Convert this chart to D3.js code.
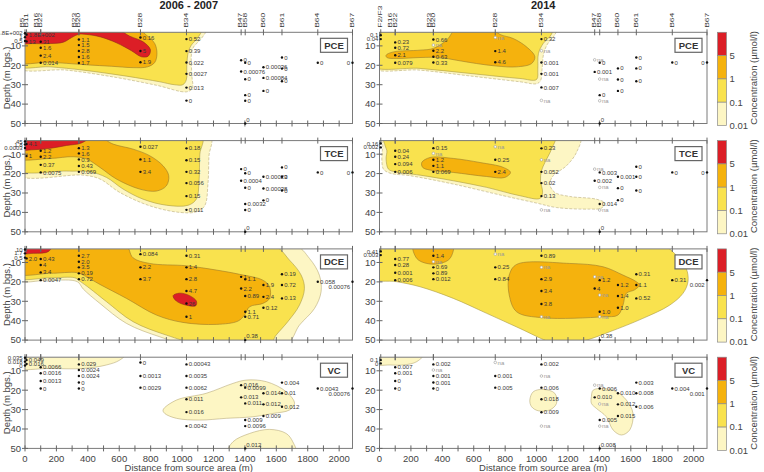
<!DOCTYPE html>
<html><head><meta charset="utf-8">
<script src="https://cdn.jsdelivr.net/npm/d3@7"></script>
<style>body{margin:0;background:#fff}svg{display:block;font-family:"Liberation Sans",Arial,sans-serif}</style>
</head><body><svg id="c" width="764" height="472"></svg>
<script>
// ---------------- DATA ----------------
const compounds = ["PCE","TCE","DCE","VC"];
const periods = ["2006 - 2007","2014"];
const stations2006 = ["B5","B11","B16","B22","B23","B20","B28","B34","B47","B58","B60","B61","B64","B67"];
const stationDist2006 = [0,10,100,100,343,343,735,1028,1376,1402,1518,1636,1864,2085];
const stations2014 = ["F2/F3","B16","B22","B23","B20","B28","B34","B47","B58","B60","B61","B64","B67"];
const stationDist2014 = [8,100,100,343,343,737,1031,1370,1402,1518,1635,1864,2085];
const distanceTicks = [0,200,400,600,800,1000,1200,1400,1600,1800,2000];
const distanceMinorTicks = d3.range(0,2085,100);
const depthTicks = [10,20,30,40,50];
const legendLabels = ["5","1","0.1","0.01"];

// samples: [station, depth (m), value label]
const pce2006 = [["B5",3.5,"5.8E+002"],["B5",5.5,"1"],["B5",7.5,"0.5"],["B11",4.2,"1.8E+002"],["B11",7.7,"13"],
["B22",7.9,"31"],["B22",11,"1.6"],["B22",15,"2.4"],["B22",18.7,"0.014"],
["B20",6.7,"1.1"],["B20",9.6,"1.5"],["B20",12.6,"2.8"],["B20",15.7,"1.6"],["B20",18.8,"1.7"],
["B28",5.7,"0.16"],["B28",12.6,"5"],["B28",18.4,"1.9"],
["B34",6.5,"0.52"],["B34",12.7,"0.39"],["B34",18.6,"0.022"],["B34",24.4,"0.0027"],["B34",31.5,"0.013"],["B34",38.2,"0"],
["B47",17.4,"0"],["B47",23.2,"0.00076"],["B58",18.7,"0"],["B58",27.2,"0"],["B58",35.4,"0"],["B58",38.3,"0"],["B58",50,"0"],
["B60",21,"0.00036"],["B60",26.5,"0.00084"],["B60",33.2,"0"],["B61",16,"0"],["B61",21.7,"0"],["B61",28.2,"0"],
["B64",18.7,"0"],["B67",18.7,"0"]];
const pce2014 = [["F2/F3",4.5,"0.1"],["F2/F3",6.5,"0.04"],
["B22",8.2,"0.23"],["B22",11,"0.72"],["B22",14.8,"2.1"],["B22",18.7,"0.079"],
["B20",6.7,"0.66"],["B20",9.6,"na"],["B20",12.5,"2.2"],["B20",15.6,"0.63"],["B20",18.6,"0.33"],
["B28",5.7,"na"],["B28",12.7,"1.4"],["B28",18.4,"4.6"],
["B34",6.5,"0.32"],["B34",12.5,"na"],["B34",18.6,"0.001"],["B34",24.4,"0.001"],["B34",31.4,"0.007"],["B34",38.1,"na"],
["B47",17.2,"na"],["B47",23.4,"0.001"],["B58",18.7,"0"],["B58",27.1,"na"],["B58",35.4,"0"],["B58",38.3,"na"],["B58",50,"0"],
["B60",21.6,"0"],["B60",27.3,"0"],["B60",33.2,"0"],["B61",16,"0"],["B61",21.6,"0"],["B61",28.2,"0"],
["B64",18.6,"0"],["B67",18.6,"0"]];
const tce2006 = [["B5",3.5,"45"],["B5",5,"1.8"],["B5",6.8,"0.0003"],["B11",4.8,"4.1"],["B11",11,"1"],
["B22",8.2,"1.2"],["B22",11.3,"2.2"],["B22",15.5,"0.37"],["B22",19.4,"0.0075"],
["B20",6.9,"1.3"],["B20",9.6,"1.6"],["B20",12.7,"0.3"],["B20",16.1,"0.43"],["B20",19.1,"0.069"],
["B28",6.2,"0.027"],["B28",12.7,"1.1"],["B28",19.1,"3.4"],
["B34",7,"0.18"],["B34",13.1,"0.15"],["B34",19.1,"0.32"],["B34",24.9,"0.056"],["B34",31.6,"0.15"],["B34",38.7,"0.011"],
["B47",17.7,"0"],["B47",23.7,"0.0004"],["B58",19.8,"0"],["B58",27.3,"0"],["B58",35.7,"0.0032"],["B58",38.8,"0"],["B58",50,"0"],
["B60",21.6,"0.00023"],["B60",27.7,"0.00038"],["B60",33.8,"0"],["B61",16.8,"0"],["B61",21.6,"0"],["B61",28.7,"0"],
["B64",19.4,"0"],["B67",19.4,"0"]];
const tce2014 = [["F2/F3",4.5,"0.16"],["F2/F3",6.5,"0.002"],
["B22",8.2,"0.04"],["B22",11.3,"0.24"],["B22",15.1,"0.094"],["B22",19.1,"0.006"],
["B20",6.9,"0.15"],["B20",9.6,"na"],["B20",12.9,"1.2"],["B20",16,"1.1"],["B20",19.1,"0.069"],
["B28",6.2,"na"],["B28",12.9,"0.25"],["B28",19.1,"2.4"],
["B34",7,"0.23"],["B34",12.9,"na"],["B34",19.1,"0.052"],["B34",24.9,"0.02"],["B34",31.6,"0.13"],["B34",38.7,"na"],
["B47",17.7,"na"],["B47",23.7,"0.002"],["B58",19.4,"0.003"],["B58",27.1,"na"],["B58",35.7,"0.014"],["B58",38.8,"na"],["B58",50,"0"],
["B60",21.6,"0.001"],["B60",27.5,"0"],["B60",33.7,"0"],["B61",16.5,"0"],["B61",21.6,"0"],["B61",28.7,"0"],
["B64",19.4,"0"],["B67",19.4,"0"]];
const dce2006 = [["B5",3.3,"10"],["B5",5.3,"1.7"],["B5",7.5,"0.5"],["B11",7.9,"2.0"],
["B22",8.2,"0.43"],["B22",11.3,"4"],["B22",15.1,"3.4"],["B22",19.1,"0.0047"],
["B20",6.5,"2.7"],["B20",9.6,"2.0"],["B20",12.5,"3.5"],["B20",15.6,"0.19"],["B20",18.6,"0.72"],
["B28",5.7,"0.084"],["B28",12.5,"2.2"],["B28",18.6,"3.7"],
["B34",6.5,"0.31"],["B34",12.5,"1.4"],["B34",18.6,"2.8"],["B34",24.7,"4.7"],["B34",31.1,"26"],["B34",38,"1"],
["B47",17.4,"1"],["B47",23.4,"2.2"],["B58",18.7,"1.1"],["B58",27.3,"0.89"],["B58",35.4,"1.1"],["B58",38,"0.71"],["B58",50,"0.38"],
["B60",21.6,"1.9"],["B60",27.7,"2.4"],["B60",33.3,"0.12"],["B61",16.1,"0.19"],["B61",21.6,"0.72"],["B61",28.5,"0.13"],
["B64",19.9,"0.058"],["B67",19.9,"0.00076"]];
const dce2014 = [["F2/F3",4.3,"0.41"],["F2/F3",6.2,"0.003"],
["B22",8.2,"0.77"],["B22",11.3,"0.28"],["B22",15.3,"0.001"],["B22",19.1,"0.006"],
["B20",6.5,"1.4"],["B20",9.6,"na"],["B20",12.5,"0.69"],["B20",15.6,"0.89"],["B20",18.6,"0.012"],
["B28",5.7,"na"],["B28",12.5,"0.25"],["B28",18.6,"0.84"],
["B34",6.5,"0.89"],["B34",12.5,"na"],["B34",18.6,"2.9"],["B34",24.7,"3.4"],["B34",31.4,"3.8"],["B34",38,"na"],
["B47",17.4,"na"],["B47",23.4,"4"],["B58",19.1,"1.2"],["B58",26.8,"na"],["B58",35.4,"1.0"],["B58",38,"na"],["B58",50,"0.38"],
["B60",21.6,"1.2"],["B60",27.3,"1.4"],["B60",33.3,"1.0"],["B61",16.1,"0.31"],["B61",21.6,"1.1"],["B61",28.5,"0.52"],
["B64",19.1,"0.31"],["B67",19.1,"0.002"]];
const vc2006 = [["B5",3.3,"0.035"],["B5",5.3,"0.018"],["B5",7.3,"0"],["B11",4.5,"0.049"],["B11",6.5,"0.016"],
["B22",8.2,"0.0066"],["B22",11.3,"0.0016"],["B22",15.3,"0.0013"],["B22",19.1,"0"],
["B20",6.7,"0.029"],["B20",9.6,"0.0024"],["B20",12.7,"0.0024"],["B20",16,"0"],["B20",19.1,"0"],
["B28",5.7,"0"],["B28",12.7,"0.0013"],["B28",18.7,"0.0029"],
["B34",6.7,"0.00043"],["B34",12.7,"0.0035"],["B34",18.7,"0.0062"],["B34",24.7,"0.011"],["B34",31.3,"0.016"],["B34",38.5,"0.0042"],
["B47",17.4,"0.016"],["B47",23.7,"0.013"],["B58",18.7,"0.0099"],["B58",26.8,"0.011"],["B58",35.4,"0.009"],["B58",38.5,"0.0096"],["B58",50,"0.012"],
["B60",21.6,"0.014"],["B60",27.3,"0.012"],["B60",33.3,"0.009"],["B61",16.1,"0.004"],["B61",21.6,"0.01"],["B61",28.5,"0.012"],
["B64",19.1,"0.0043"],["B67",19.1,"0.00076"]];
const vc2014 = [["F2/F3",4.5,"0.1"],["F2/F3",6.2,"0"],
["B22",8.2,"0.007"],["B22",11.3,"0.001"],["B22",15.3,"0"],["B22",19.1,"0"],
["B20",6.7,"0.002"],["B20",9.6,"na"],["B20",12.7,"0.001"],["B20",16,"0.001"],["B20",19.1,"0"],
["B28",5.7,"na"],["B28",12.7,"0.001"],["B28",18.7,"0.005"],
["B34",6.7,"0.002"],["B34",12.7,"na"],["B34",18.7,"0.006"],["B34",24.7,"0.018"],["B34",31.4,"0.009"],["B34",38.5,"na"],
["B47",17.4,"na"],["B47",23.7,"0.010"],["B58",19.1,"0.006"],["B58",27.1,"na"],["B58",35.4,"0.005"],["B58",38.5,"na"],["B58",50,"0.008"],
["B60",21.6,"0.010"],["B60",27.3,"0.012"],["B60",33.3,"0.015"],["B61",16.1,"0.003"],["B61",21.6,"0.008"],["B61",28.5,"0.006"],
["B64",19.1,"0.004"],["B67",19.1,"0.001"]];

// concentration class outlines: [distance (m), depth (m)]
const pce2006Cream = [[-60,0.5],[1155,0.5],[1123,6.2],[1074,10.5],[1060,14],[1062,25],[1065,32],[1027,33.7],[837,30.3],[582,26.3],[265,22.5],[-60,20.8]];
const pce2006Yellow = [[-60,0.5],[1125,0.5],[1101,5.7],[1059,9.6],[1040,13],[1030,20],[1027,27.5],[1005,30],[950,30],[858,28.5],[646,25.6],[371,22.5],[159,20.8],[-60,19.9]];
const pce2006Orange = [[-60,0.5],[700,0.5],[773,4.5],[826,8.8],[840,14],[826,18.5],[780,20.8],[688,21.2],[550,20.5],[400,19.8],[265,19],[150,18.4],[-60,17.9]];
const pce2006Red = [[-60,0.5],[560,0.5],[667,5],[752,7.9],[798,11.9],[784,15.3],[741,15.6],[678,12.5],[582,8.4],[477,5.3],[392,4.1],[343,4.0],[297,5.7],[244,8.1],[159,8.8],[53,8.8],[-60,8.2]];
const pce2014Cream = [[-60,0.5],[1130,0.5],[1110,5],[1070,9],[1045,14],[1035,22],[1025,28],[1000,29.5],[894,28.5],[576,25.5],[258,22.5],[-60,20.8]];
const pce2014Yellow = [[-60,0.5],[1100,0.5],[1095,4],[1042,8.8],[1012,13.9],[1008,22],[1000,27.3],[894,26.8],[576,24.2],[258,21.6],[-60,19.9]];
const pce2014Orange = [[42,14.8],[89,13.1],[258,12.2],[343,11.3],[428,7.0],[496,0.5],[703,0.5],[767,4.1],[851,6.2],[936,10.5],[989,15.6],[968,19.1],[873,20.8],[746,20.4],[618,19.1],[491,17.4],[385,16.0],[258,16.0],[110,16.5],[47,16.0]];
const tce2006Cream = [[-60,0.5],[1178,0.5],[1171,11],[1165,25],[1144,36.6],[1091,39.7],[985,40],[794,36.6],[603,29.7],[477,22.8],[371,20.8],[-60,20.3]];
const tce2006Yellow = [[-60,0.5],[1125,0.5],[1113,10],[1108,24],[1092,33],[1040,36.3],[900,36.3],[752,33.2],[625,28],[519,22],[413,19.1],[265,18.7],[-60,17.7]];
const tce2006Orange = [[-60,0.5],[455,0.5],[561,4.8],[688,7.4],[794,10.8],[879,16],[915,21.1],[900,26.3],[837,29],[731,28],[582,22.8],[477,16.8],[392,12.5],[307,11.3],[159,12.2],[-60,11.7]];
const tce2006Red = [[-60,0.5],[420,0.5],[360,4.2],[265,5.5],[159,7.0],[53,7.7],[-60,7.4]];
const tce2014Cream = [[15,0.5],[1275,0.5],[1254,9.1],[1190,16],[1106,21.1],[1084,25.4],[1116,29.7],[1212,31.8],[1381,33.2],[1434,35.2],[1413,37.8],[1339,38.3],[1127,37.5],[1000,35.2],[788,31.4],[470,25.4],[195,21.1],[68,19.8],[25,17.7],[15,10.8],[21,5.7]];
const tce2014Yellow = [[30,0.5],[1116,0.5],[1095,7.4],[1053,14.3],[1031,18.6],[1025,23.7],[1038,29.7],[1021,32.8],[894,31.4],[682,27.1],[470,23.7],[258,20.8],[100,19.1],[57,17.7],[42,12.5],[47,8.2],[36,5.7]];
const tce2014Orange = [[269,14.3],[322,11.7],[470,12.2],[640,14.3],[788,16.8],[834,19.4],[798,22],[682,21.5],[470,19.4],[322,18.2],[275,16.8]];
const dce2006Cream = [[-60,0.5],[1705,0.5],[1811,7.9],[1874,16.5],[1885,25.1],[1843,33.7],[1747,42.3],[1663,52],[1027,52],[858,48.3],[646,41.4],[477,31.1],[371,23.7],[333,19.9],[159,19.1],[-60,18.7]];
const dce2006Yellow = [[-60,0.5],[1567,0.5],[1684,8.8],[1758,16.5],[1779,23.4],[1747,32],[1673,40.5],[1599,47.4],[1557,52],[1112,52],[900,47.4],[688,40.5],[519,30.2],[413,23.4],[349,19.6],[318,17.9],[159,17.9],[-60,17.4]];
const dce2006Orange = [[-60,0.5],[635,0.5],[688,7.6],[794,10.5],[1027,11.7],[1218,13.9],[1366,16.1],[1514,19.1],[1557,22.5],[1557,28.5],[1514,31.1],[1430,32.8],[1398,37.1],[1356,40.2],[1218,41.9],[1006,40.9],[837,37.1],[646,28.5],[477,21.3],[371,16.5],[328,15.2],[159,15.6],[-60,15.3]];
const dce2006RedTop = [[-60,0.5],[175,0.5],[150,4.3],[53,5.3],[-60,5.0]];
const dce2006RedCore = [[943,27.1],[985,25.8],[1048,27.1],[1091,29.9],[1087,32.3],[1027,32],[964,29.9]];
const dce2014Yellow = [[-60,0.5],[1783,0.5],[1889,6.2],[1953,13.1],[1964,19.9],[1932,25.9],[1847,32],[1677,38.8],[1466,45.7],[1296,50.5],[1150,52],[1084,51],[894,44],[682,36.2],[470,28.5],[258,22.5],[110,19.9],[-60,17.9]];
const dce2014OrangeTop = [[216,0.5],[237,7.9],[301,10.5],[385,10.5],[449,7.9],[466,0.5]];
const dce2014OrangeCore = [[873,11],[1211,10.5],[1423,12.2],[1550,16.5],[1635,19.9],[1656,21.6],[1624,24.1],[1571,25.9],[1550,32],[1518,37.1],[1423,38],[1042,38.5],[873,35.4],[826,26.8],[826,16.5]];
const vc2006CreamTop = [[-60,0.5],[650,0.5],[603,4.5],[519,7],[371,8.8],[159,8.8],[-60,8.2]];
const vc2006CreamMid = [[879,30.2],[964,25.1],[1154,21.6],[1324,16.5],[1408,14.8],[1536,15.6],[1663,20.8],[1716,26.8],[1684,30.2],[1578,32],[1451,33.7],[1281,34.5],[1112,35.4],[964,34.5],[890,32]];
const vc2006CreamDeep = [[1292,52],[1324,46.6],[1430,42.3],[1557,40.2],[1663,42.3],[1705,46.6],[1722,52]];
const vc2014CreamTop = [[-60,0.5],[290,0.5],[237,5.3],[152,7],[68,7],[-60,6.5]];
const vc2014CreamB34 = [[957,25.1],[979,20.8],[1042,19.6],[1116,21.6],[1127,26.8],[1084,30.2],[1010,30.6],[968,28.5]];
const vc2014CreamB58 = [[1349,23.4],[1360,20],[1423,19.1],[1508,20.8],[1572,25.1],[1614,32],[1593,40.5],[1540,43.1],[1487,40.5],[1444,33.7],[1381,29.4],[1349,26.8]];

// ---------------- DRAWING ----------------
const colors = {cream:"#fdf6c4", yellow:"#f9e24e", orange:"#f5b20d", red:"#dc1e26"};
const strokes = {cream:"#b8ab78", yellow:"#a99a44", orange:"#9c7a2a", red:"#8e2a1c"};
const panels = [
 {c:0,p:0,samples:pce2006,regions:[["cream",pce2006Cream],["yellow",pce2006Yellow],["orange",pce2006Orange],["red",pce2006Red]]},
 {c:0,p:1,samples:pce2014,regions:[["cream",pce2014Cream],["yellow",pce2014Yellow],["orange",pce2014Orange]]},
 {c:1,p:0,samples:tce2006,regions:[["cream",tce2006Cream],["yellow",tce2006Yellow],["orange",tce2006Orange],["red",tce2006Red]]},
 {c:1,p:1,samples:tce2014,regions:[["cream",tce2014Cream],["yellow",tce2014Yellow],["orange",tce2014Orange]]},
 {c:2,p:0,samples:dce2006,regions:[["cream",dce2006Cream],["yellow",dce2006Yellow],["orange",dce2006Orange],["red",dce2006RedTop],["red",dce2006RedCore]]},
 {c:2,p:1,samples:dce2014,regions:[["yellow",dce2014Yellow],["orange",dce2014OrangeTop],["orange",dce2014OrangeCore]]},
 {c:3,p:0,samples:vc2006,regions:[["cream",vc2006CreamTop],["cream",vc2006CreamMid],["cream",vc2006CreamDeep]]},
 {c:3,p:1,samples:vc2014,regions:[["cream",vc2014CreamTop],["cream",vc2014CreamB34],["cream",vc2014CreamB58]]}
];
const stationNames = [stations2006, stations2014];
const stationDists = [stationDist2006, stationDist2014];

const svg = d3.select("#c");
const defs = svg.append("defs");
const panelX = [25, 379.5], panelW = 327.5, top0 = 32.3, rowStep = 108.3, panelH = 91.2;
const axisCol = "#666", txtCol = "#333";

function scales(row, col){
  const x0 = panelX[col], top = top0 + row*rowStep;
  return {
    x: d3.scaleLinear().domain([0,2085]).range([x0, x0+panelW]),
    y: d3.scaleLinear().domain([3,50]).range([top, top+panelH]),
    x0, x1: x0+panelW, top, bot: top+panelH
  };
}

panels.forEach(spec => {
  const row = spec.c, col = spec.p;
  const s = scales(row, col);
  const g = svg.append("g");
  const clipId = "clip" + row + col;
  defs.append("clipPath").attr("id", clipId).append("rect")
    .attr("x", s.x0).attr("y", s.top).attr("width", panelW).attr("height", panelH);
  const rg = g.append("g").attr("clip-path", `url(#${clipId})`);
  const line = d3.line().x(d => s.x(d[0])).y(d => s.y(d[1])).curve(d3.curveCatmullRomClosed.alpha(0.5));
  spec.regions.forEach(([lvl, poly]) => {
    rg.append("path").attr("d", line(poly)).attr("fill", colors[lvl])
      .attr("stroke", strokes[lvl]).attr("stroke-width", 0.6)
      .attr("stroke-dasharray", lvl === "cream" && row < 2 ? "3,1.5" : null);
  });
  // frame
  g.append("rect").attr("x", s.x0).attr("y", s.top).attr("width", panelW).attr("height", panelH)
    .attr("fill", "none").attr("stroke", "#7a7a7a").attr("stroke-width", 1);
  // y ticks
  depthTicks.forEach(t => {
    g.append("line").attr("x1", s.x0-3).attr("x2", s.x0+3).attr("y1", s.y(t)).attr("y2", s.y(t)).attr("stroke", axisCol);
    g.append("text").attr("x", s.x0-4).attr("y", s.y(t)).attr("dy", "0.35em").attr("text-anchor", "end")
      .attr("font-size", 9.5).attr("fill", "#444").text(t);
  });
  // bottom ticks
  distanceMinorTicks.forEach(t => {
    g.append("line").attr("x1", s.x(t)).attr("x2", s.x(t)).attr("y1", s.bot-3).attr("y2", s.bot+3).attr("stroke", axisCol);
  });
  if (row === 3) {
    distanceTicks.forEach(t => {
      g.append("text").attr("x", s.x(t)).attr("y", s.bot+14).attr("text-anchor", "middle")
        .attr("font-size", 9.5).attr("fill", "#444").text(t);
    });
    g.append("text").attr("x", (s.x0+s.x1)/2).attr("y", s.bot+23).attr("text-anchor", "middle")
      .attr("font-size", 9.5).attr("fill", "#444").text("Distance from source area (m)");
  }
  // top station ticks
  const names = stationNames[col], dists = stationDists[col];
  dists.forEach(d => {
    g.append("line").attr("x1", s.x(d)).attr("x2", s.x(d)).attr("y1", s.top-3).attr("y2", s.top+3).attr("stroke", axisCol);
  });
  if (row === 0) {
    // label placement: stations at (nearly) the same distance are fanned out to the left
    const pos = dists.map(d => s.x(d));
    const gap = 4.3;
    for (let i = pos.length-2; i >= 0; i--) pos[i] = Math.min(pos[i], pos[i+1]-gap);
    names.forEach((n, i) => {
      g.append("text").attr("transform", `translate(${pos[i]},${s.top-4.5}) rotate(-90) scale(1,0.65)`)
        .attr("dominant-baseline", "central").attr("font-size", 8.5).attr("fill", txtCol).text(n);
    });
    g.append("text").attr("x", (s.x0+s.x1)/2).attr("y", 8.5).attr("text-anchor", "middle")
      .attr("font-size", 11).attr("font-weight", "bold").attr("fill", "#222").text(periods[col]);
  }
  // samples
  const distOf = {}; names.forEach((n, i) => distOf[n] = dists[i]);
  spec.samples.forEach(([st, depth, label]) => {
    const d = distOf[st];
    const cx = s.x(d), cy = s.y(depth);
    const na = label === "na";
    g.append("circle").attr("cx", cx).attr("cy", cy).attr("r", na ? 1.3 : 1.2)
      .attr("fill", na ? "#fff" : "#111").attr("stroke", na ? "#999" : "none").attr("stroke-width", 0.6);
    let tx = cx + 2.3, ty = cy, anchor = "start";
    if (st === "B5" || st === "F2/F3") { anchor = "end"; tx = cx - 2.3; }
    if (d >= 2080) { anchor = "end"; tx = cx - 2.3; if (label.length > 1) ty = cy + 5; }
    if (depth >= 49) { tx = cx + 1; ty = cy - 4; }
    g.append("text").attr("x", tx).attr("y", ty).attr("dy", "0.35em").attr("text-anchor", anchor)
      .attr("font-size", 6).attr("fill", na ? "#999" : "#3a3a3a").text(label);
  });
  // compound box
  const bw = 27, bh = 14, bx = s.x1 - 5 - bw, by = s.top + 6;
  g.append("rect").attr("x", bx).attr("y", by).attr("width", bw).attr("height", bh)
    .attr("fill", "#fff").attr("stroke", "#666").attr("stroke-width", 1.2);
  g.append("text").attr("x", bx+bw/2).attr("y", by+bh/2).attr("dy", "0.36em").attr("text-anchor", "middle")
    .attr("font-size", 9.5).attr("font-weight", "bold").attr("fill", "#333").text(compounds[row]);
  // y title
  if (col === 0) {
    g.append("text").attr("transform", `translate(6,${(s.top+s.bot)/2}) rotate(-90)`)
      .attr("dominant-baseline", "central").attr("text-anchor", "middle")
      .attr("font-size", 9.5).attr("fill", "#444").text("Depth (m bgs.)");
  }
  // colour bar
  if (col === 1) {
    const bandColors = [colors.red, colors.orange, colors.yellow, colors.cream];
    const cb = d3.scaleBand().domain(d3.range(4)).range([s.top, s.bot+2]);
    const cbx = 717.5, cbw = 9;
    bandColors.forEach((c, i) => {
      g.append("rect").attr("x", cbx).attr("y", cb(i)).attr("width", cbw).attr("height", cb.bandwidth())
        .attr("fill", c).attr("stroke", "#8a8a8a").attr("stroke-width", 0.7);
    });
    legendLabels.forEach((l, i) => {
      g.append("text").attr("x", cbx+cbw+3).attr("y", cb(i)+cb.bandwidth()).attr("dy", "0.35em")
        .attr("font-size", 9.5).attr("fill", "#444").text(l);
    });
    g.append("text").attr("transform", `translate(753,${(s.top+s.bot)/2}) rotate(-90)`)
      .attr("dominant-baseline", "central").attr("text-anchor", "middle")
      .attr("font-size", 9.5).attr("fill", "#444").text("Concentration (µmol/l)");
  }
});
</script></body></html>
